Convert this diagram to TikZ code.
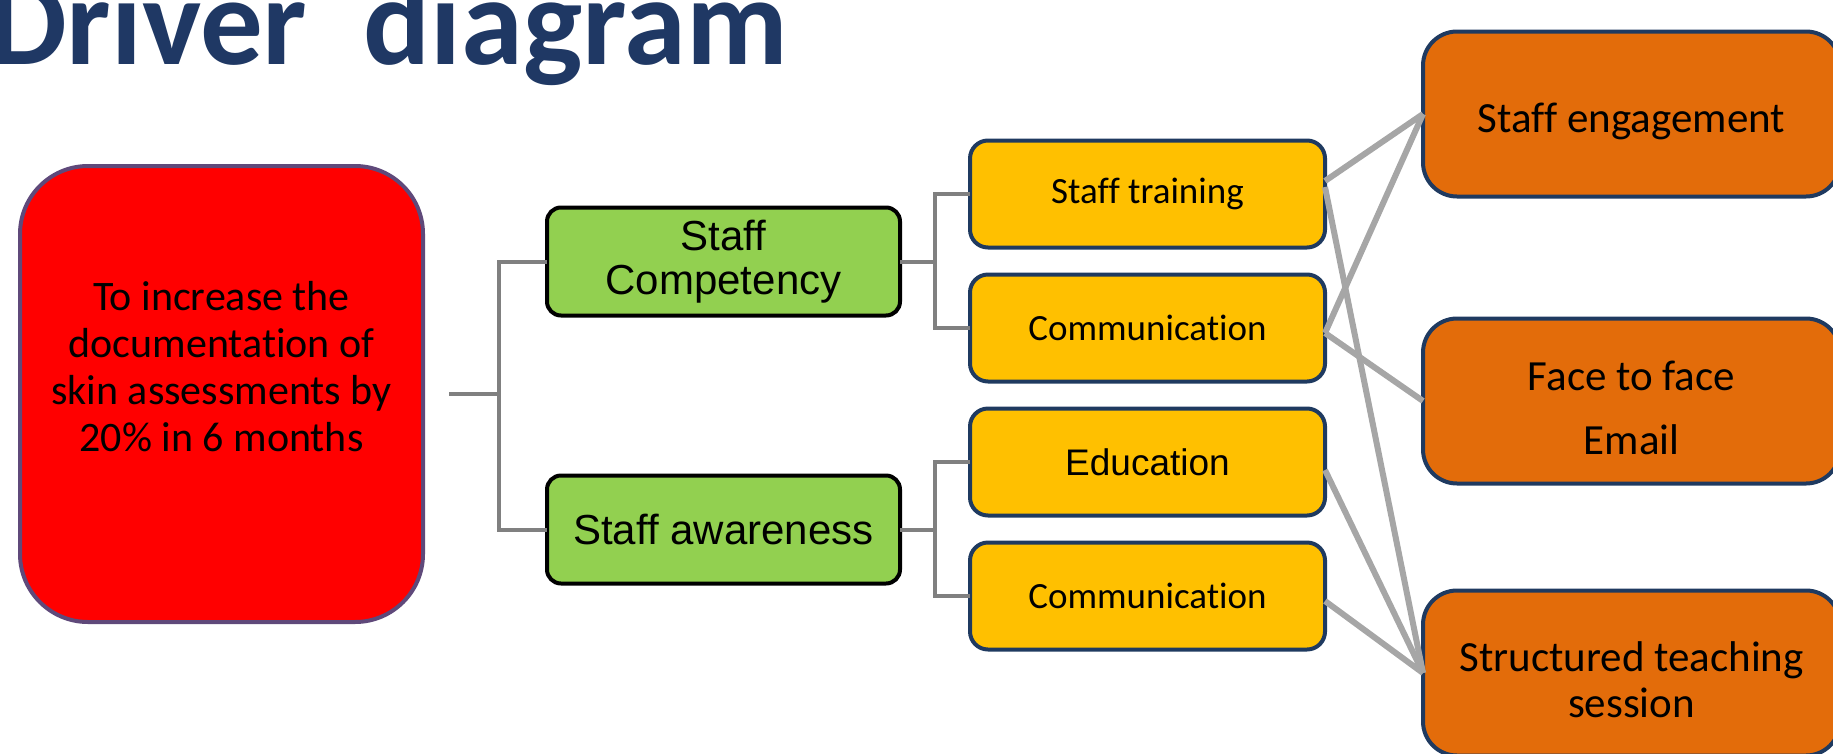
\documentclass[tikz,border=0pt]{standalone}
\usepackage{fontspec}
\setmainfont{Carlito}[Ligatures=NoCommon]
\newfontfamily\arialfont{Liberation Sans}
\usetikzlibrary{positioning}
\definecolor{titleblue}{HTML}{1F3864}
\definecolor{goalred}{HTML}{FF0000}
\definecolor{goalrim}{HTML}{5F497A}
\definecolor{drivergreen}{HTML}{92D050}
\definecolor{changeyellow}{HTML}{FFC000}
\definecolor{ideaorange}{HTML}{E36C0A}
\definecolor{boxrim}{HTML}{1F3A60}
\definecolor{treegray}{HTML}{808080}
\definecolor{linkgray}{HTML}{A6A6A6}
\newcommand{\ideastrut}{\rule{0pt}{44pt}}
\tikzstyle{goal} = [rectangle, rounded corners=68pt, minimum width=403pt, minimum height=456pt, inner sep=0pt, outer sep=0pt, fill=goalred, draw=goalrim, line width=4pt]
\tikzstyle{goaltext} = [align=center, inner sep=0pt, font=\fontsize{42}{47}\selectfont]
\tikzstyle{driver} = [rectangle, rounded corners=14pt, minimum width=353pt, minimum height=108pt, inner sep=0pt, outer sep=0pt, align=center, fill=drivergreen, draw=black, line width=4pt, font=\arialfont\fontsize{42}{44}\selectfont]
\tikzstyle{change} = [rectangle, rounded corners=18pt, minimum width=355pt, minimum height=107pt, inner sep=0pt, outer sep=0pt, align=center, fill=changeyellow, draw=boxrim, line width=4pt, font=\fontsize{37}{44}\selectfont]
\tikzstyle{idea} = [rectangle, rounded corners=34pt, minimum width=417pt, minimum height=165pt, inner sep=0pt, outer sep=0pt, align=center, fill=ideaorange, draw=boxrim, line width=4pt, font=\fontsize{43}{46}\selectfont]
\tikzstyle{tree} = [draw=treegray, line width=4pt]
\tikzstyle{link} = [draw=linkgray, line width=6pt]
\begin{document}
\begin{tikzpicture}[x=1pt, y=-1pt]
	\useasboundingbox (0,0) rectangle (1833,753);

	% Title - - - - - - - - - - - - - - - - - - - - - - - - - - - - - - - - - -
	\node(title) [anchor=base west, inner sep=0pt, text=titleblue, font=\bfseries\fontsize{125}{125}\selectfont] at (-12,64) {Driver\ \ diagram};

	% Aim - - - - - - - - - - - - - - - - - - - - - - - - - - - - - - - - - - -
	\node(goal) [goal] at (221.5,394) {};
	\node(goaltext) [goaltext] at ([yshift=27pt]goal.center)
		{To increase the\\documentation of\\skin assessments by\\20\% in 6 months};

	% Primary drivers - - - - - - - - - - - - - - - - - - - - - - - - - - - - -
	\node(dcomp) [driver] at (723.5,261.5) {Staff\\Competency};
	\node(dawar) [driver, below= 160pt of dcomp] {Staff awareness};

	% Secondary drivers . . . . . . . . . . . . . . . . . . . . . . . . . . . .
	\node(ytrain) [change] at (1147.5,194) {Staff training};
	\node(ycomm) [change, below= 27pt of ytrain] {Communication};
	\node(yedu) [change, below= 27pt of ycomm, font=\arialfont\fontsize{37}{44}\selectfont] {Education};
	\node(ycommb) [change, below= 27pt of yedu] {Communication};

	% Change ideas . . . . . . . . . . . . . . . . . . . . . . . . . . . . . . .
	\node(oeng) [idea] at (1631.5,114) {\ideastrut Staff engagement};
	\node(oface) [idea, below= 122pt of oeng] {\ideastrut Face to face\\[18pt]Email};
	\node(oteach) [idea, below= 107pt of oface] {\ideastrut Structured teaching\\session};

	% Tree lines - - - - - - - - - - - - - - - - - - - - - - - - - - - - - - - -
	\coordinate (gstub) at ([xshift=26pt]goal.east);
	\draw[tree](dcomp.west)-- ++(-48,0) coordinate (gbar) |-(dawar.west);
	\draw[tree](gstub)--(gstub -| gbar);
	\draw[tree](dcomp.east)-- ++(35,0);
	\draw[tree](ytrain.west)-- ++(-35,0) |-(ycomm.west);
	\draw[tree](dawar.east)-- ++(35,0);
	\draw[tree](yedu.west)-- ++(-35,0) |-(ycommb.west);

	% Links - - - - - - - - - - - - - - - - - - - - - - - - - - - - - - - - - -
	\draw[link]([yshift=13pt]ytrain.east)--(oeng.west);
	\draw[link]([yshift=7pt]ytrain.east)--(oteach.west);
	\draw[link]([yshift=-5pt]ycomm.east)--(oeng.west);
	\draw[link]([yshift=-5pt]ycomm.east)--(oface.west);
	\draw[link]([yshift=-8pt]yedu.east)--(oteach.west);
	\draw[link]([yshift=-5pt]ycommb.east)--(oteach.west);

\end{tikzpicture}
\end{document}
